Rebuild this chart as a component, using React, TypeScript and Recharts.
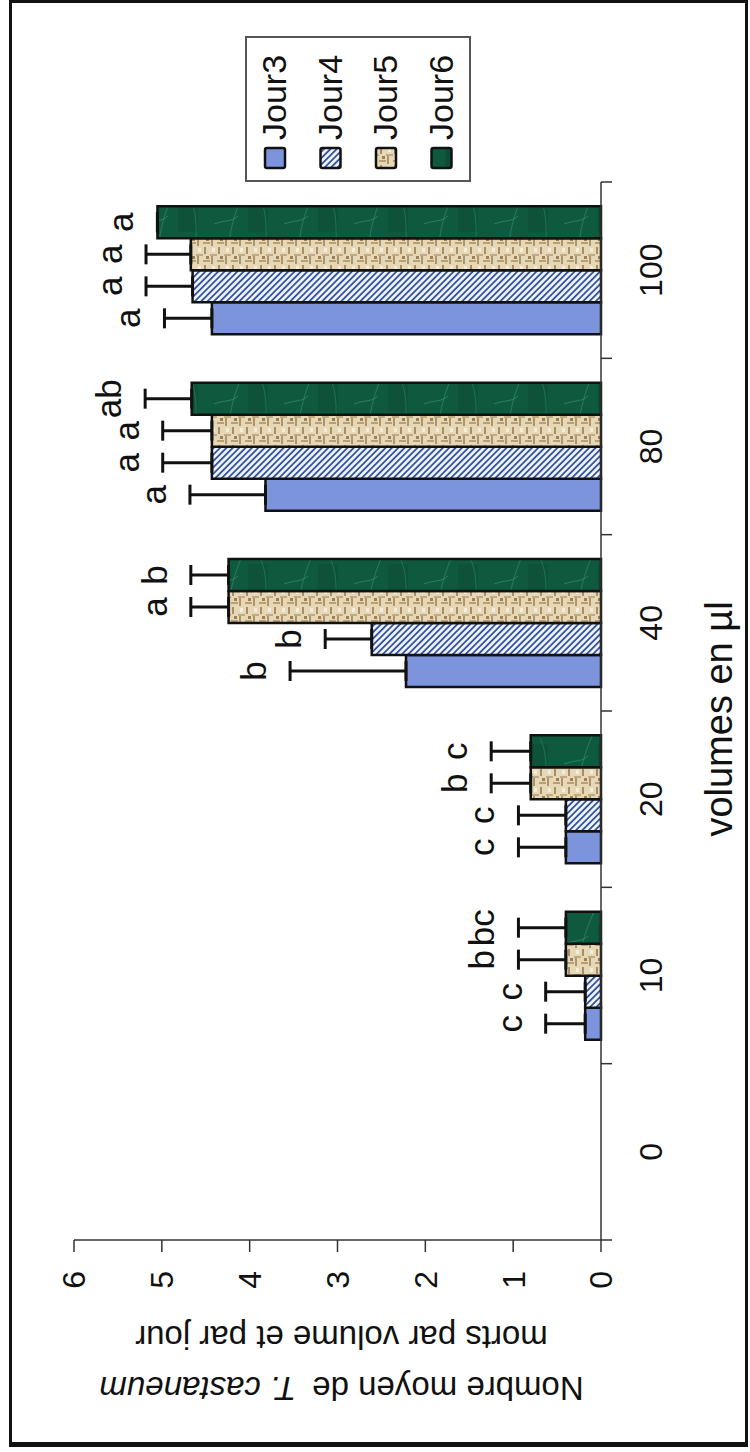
import React from "react";
import { BarChart, Bar, XAxis, YAxis, ErrorBar, LabelList, Legend } from "recharts";

// volumes (µl) on the category axis
const volumes = ["0", "10", "20", "40", "80", "100"];

// mean dead insects per volume and per day
const jour3 = [0, 0.18, 0.4, 2.22, 3.82, 4.43];
const jour4 = [0, 0.18, 0.4, 2.61, 4.43, 4.65];
const jour5 = [0, 0.4, 0.8, 4.24, 4.43, 4.67];
const jour6 = [0, 0.4, 0.8, 4.24, 4.66, 5.05];

// upper error (only the positive side is drawn)
const err3 = [0, 0.45, 0.54, 1.32, 0.86, 0.54];
const err4 = [0, 0.45, 0.54, 0.53, 0.56, 0.53];
const err5 = [0, 0.54, 0.45, 0.43, 0.56, 0.51];
const err6 = [0, 0.54, 0.45, 0.43, 0.53, 0];

// significance letters
const let3 = ["", "c", "c", "b", "a", "a"];
const let4 = ["", "c", "c", "b", "a", "a"];
const let5 = ["", "b", "b", "a", "a", "a"];
const let6 = ["", "bc", "c", "b", "ab", "a"];

const yTicks = [0, 1, 2, 3, 4, 5, 6];

const FONT = "'Liberation Sans', Arial, Helvetica, sans-serif";
const INK = "#111";

// chart is drawn upright, then the whole figure is turned a quarter turn
const W = 1452;
const H = 750;
const MARGIN = { top: 74, right: 182, bottom: 89, left: 112 };
const Y_AXIS_W = 100;
const PLOT_W = W - MARGIN.left - MARGIN.right - Y_AXIS_W;

const SERIES = [
  { key: "j3", name: "Jour3", values: jour3, errs: err3, letters: let3, fill: "#7c94dc" },
  { key: "j4", name: "Jour4", values: jour4, errs: err4, letters: let4, fill: "url(#hatchJ4)" },
  { key: "j5", name: "Jour5", values: jour5, errs: err5, letters: let5, fill: "url(#burlapJ5)" },
  { key: "j6", name: "Jour6", values: jour6, errs: err6, letters: let6, fill: "url(#marbleJ6)" },
];

const rows = volumes.map((v, i) => {
  const r: Record<string, any> = { volume: v, idx: i };
  SERIES.forEach((s) => {
    r[s.key] = s.values[i];
    r[s.key + "Err"] = [0, s.errs[i]];
  });
  return r;
});

// letter sits a little beyond the top of the error bar
const letterContent = (s: (typeof SERIES)[number]) => (props: any) => {
  const vb = props.viewBox ?? props;
  const x = vb.x ?? props.x;
  const y = vb.y ?? props.y;
  const width = vb.width ?? props.width;
  const height = vb.height ?? props.height;
  const i = Number(props.value);
  const label = s.letters[i];
  const v = s.values[i];
  if (!label || !v || !height) return null;
  const perUnit = height / v;
  const errTop = y - s.errs[i] * perUnit;
  return (
    <text x={x + width / 2} y={errTop - 24} textAnchor="middle" fontSize={35} fontFamily={FONT} fill={INK}>
      {label}
    </text>
  );
};

const VolumeTick = (props: any) => {
  const { x, y, payload, index, visibleTicksCount } = props;
  const count = visibleTicksCount || volumes.length;
  const bw = (props.width || PLOT_W) / count;
  return (
    <g>
      <line x1={x - bw / 2} x2={x - bw / 2} y1={y} y2={y + 11} stroke="#333" strokeWidth={1.5} />
      {index === count - 1 && (
        <line x1={x + bw / 2} x2={x + bw / 2} y1={y} y2={y + 11} stroke="#333" strokeWidth={1.5} />
      )}
      <text x={x} y={y + 61} textAnchor="middle" fontSize={32} fontFamily={FONT} fill={INK}>
        {payload.value}
      </text>
    </g>
  );
};

const XTitle = (props: any) => {
  const vb = props.viewBox;
  return (
    <text x={vb.x + vb.width / 2 - 8} y={vb.y + 131} textAnchor="middle" fontSize={38} fontFamily={FONT} fill={INK}>
      volumes en µl
    </text>
  );
};

const YTitle = (props: any) => {
  const vb = props.viewBox;
  const cy = vb.y + vb.height / 2 + 4;
  const x1 = vb.x - 37;
  const x2 = vb.x + 14;
  return (
    <g fontFamily={FONT} fontSize={33} fill={INK}>
      <text transform={`translate(${x1},${cy}) rotate(-90)`} textAnchor="middle">
        Nombre moyen de
        <tspan dx={16} fontStyle="italic">T. castaneum</tspan>
      </text>
      <text transform={`translate(${x2},${cy}) rotate(-90)`} textAnchor="middle">
        morts par volume et par jour
      </text>
    </g>
  );
};

const LegendBox = () => (
  <svg width={146} height={226} style={{ display: "block", overflow: "visible" }}>
    <rect x={1} y={1} width={144} height={224} fill="#fff" stroke="#555" strokeWidth={2} />
    {SERIES.map((s, i) => (
      <g key={s.key} transform={`translate(0, ${30 + i * 55.5})`}>
        <rect x={14} y={-10} width={20} height={20} rx={2} fill={s.fill} stroke={INK} strokeWidth={2.5} />
        <text x={42} y={11} fontSize={34} fontFamily={FONT} fill={INK}>
          {s.name}
        </text>
      </g>
    ))}
  </svg>
);

export default function App() {
  return (
    <div style={{ position: "absolute", left: 0, top: 0, width: 750, height: 1452, overflow: "hidden", background: "#fff" }}>
      <div
        style={{
          position: "absolute",
          left: 0,
          top: 0,
          width: W,
          height: H,
          transformOrigin: "0 0",
          transform: `translateY(${W}px) rotate(-90deg)`,
        }}
      >
        <BarChart width={W} height={H} data={rows} margin={MARGIN} barGap={0} barSize={32}>
          <defs>
            <pattern id="hatchJ4" width={4.5} height={4.5} patternUnits="userSpaceOnUse" patternTransform="rotate(-45)">
              <rect width={4.5} height={4.5} fill="#eef2fa" />
              <rect width={1.8} height={4.5} fill="#34549c" />
            </pattern>
            <pattern id="burlapJ5" width={18} height={14} patternUnits="userSpaceOnUse">
              <rect width={18} height={14} fill="#e6d8b6" />
              <rect x={0} y={1} width={8} height={2} fill="#ad946a" />
              <rect x={10} y={8} width={7} height={2} fill="#a88e62" />
              <rect x={8} y={0} width={2} height={7} fill="#c0aa82" />
              <rect x={2} y={7} width={2} height={7} fill="#b89f76" />
              <rect x={12} y={2} width={4} height={3} fill="#f3ecd8" />
              <rect x={5} y={10} width={3} height={3} fill="#9c8157" />
            </pattern>
            <pattern id="marbleJ6" width={90} height={70} patternUnits="userSpaceOnUse">
              <rect width={90} height={70} fill="#0f5a3f" />
              <rect x={6} y={4} width={30} height={18} fill="#0c4d35" />
              <rect x={50} y={38} width={28} height={20} fill="#0d5239" />
              <path d="M0 16 C20 24 40 10 90 34" stroke="#2a8062" strokeWidth={1.2} fill="none" opacity={0.8} />
              <path d="M8 64 C30 50 60 62 84 50" stroke="#25785b" strokeWidth={1} fill="none" opacity={0.8} />
              <path d="M58 4 C62 14 60 22 66 28" stroke="#3a9274" strokeWidth={0.9} fill="none" opacity={0.7} />
            </pattern>
          </defs>
          <XAxis
            dataKey="volume"
            height={60}
            tickSize={0}
            tickMargin={0}
            interval={0}
            tick={<VolumeTick />}
            axisLine={{ stroke: "#333", strokeWidth: 1.5 }}
            tickLine={false}
            label={(p: any) => <XTitle {...p} />}
          />
          <YAxis
            domain={[0, 6]}
            ticks={yTicks}
            interval={0}
            width={Y_AXIS_W}
            tickSize={12}
            tickMargin={19}
            tick={{ fontSize: 32, fill: INK, fontFamily: FONT }}
            axisLine={{ stroke: "#333", strokeWidth: 1.5 }}
            tickLine={{ stroke: "#333", strokeWidth: 1.5 }}
            label={(p: any) => <YTitle {...p} />}
          />
          <Legend
            layout="vertical"
            align="center"
            verticalAlign="middle"
            content={() => <LegendBox />}
            wrapperStyle={{ left: 1270, top: 245, width: 146, height: 226 }}
          />
          {SERIES.map((s) => (
            <Bar
              key={s.key}
              dataKey={s.key}
              name={s.name}
              fill={s.fill}
              stroke={INK}
              strokeWidth={2.5}
              isAnimationActive={false}
            >
              <ErrorBar dataKey={s.key + "Err"} direction="y" width={10} stroke={INK} strokeWidth={3} />
              <LabelList dataKey="idx" content={letterContent(s)} />
            </Bar>
          ))}
        </BarChart>
      </div>
      <div
        style={{
          position: "absolute",
          left: 9,
          top: 0,
          width: 739,
          height: 1447,
          boxSizing: "border-box",
          border: "3px solid #111",
          borderBottomWidth: 5,
          pointerEvents: "none",
        }}
      />
    </div>
  );
}
